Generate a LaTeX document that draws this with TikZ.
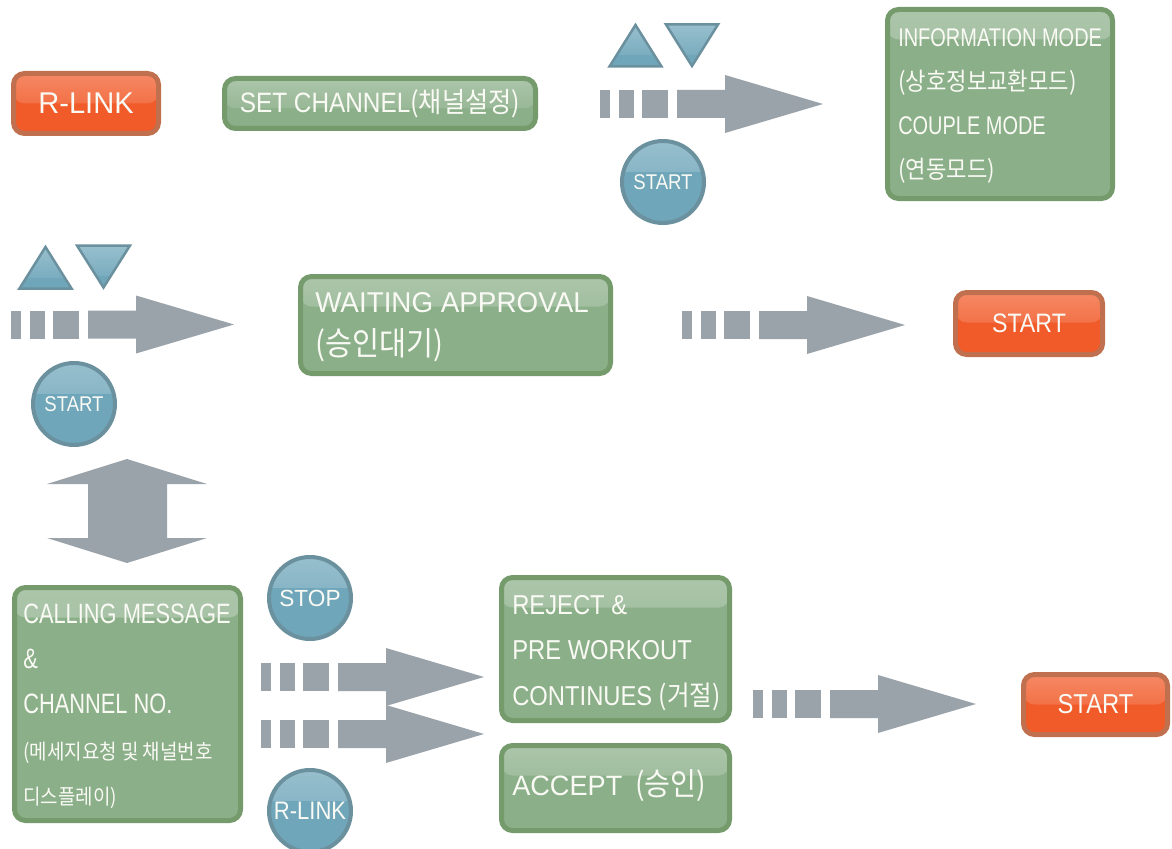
\documentclass[tikz,border=0pt]{standalone}
\usepackage{fontspec}
\setmainfont{Liberation Sans}
\newfontfamily\fa{Liberation Sans}[FakeStretch=0.78]
\newfontfamily\fb{Liberation Sans}[FakeStretch=0.87]
\newfontfamily\fc{Liberation Sans}[FakeStretch=0.97]
\newfontfamily\ko{Noto Sans CJK KR}[FakeStretch=0.9]
\newcommand\hangul[1]{{\ko #1}}
\newcommand\fsz[2]{\fontsize{#1}{#2}\selectfont}
\newdimen\px \px=0.75pt
\definecolor{gfill}{RGB}{139,175,137}
\definecolor{gedge}{RGB}{117,155,108}
\definecolor{ofill}{RGB}{241,90,41}
\definecolor{oedge}{RGB}{192,112,78}
\definecolor{bfill}{RGB}{111,166,186}
\definecolor{bedge}{RGB}{107,144,158}
\definecolor{arr}{RGB}{155,163,170}
\definecolor{txt}{RGB}{250,250,245}
\tikzset{
 gloss/.style={path picture={\shade[top color=white!28!#1, bottom color=#1] (path picture bounding box.north west) rectangle ([yshift=-30\px]path picture bounding box.north east);}},
 box/.style={draw=gedge, fill=gfill, line width=5\px, rounded corners=11\px, gloss=gfill, inner sep=0pt},
 obox/.style={draw=oedge, fill=ofill, line width=5\px, rounded corners=11\px, gloss=ofill, text=txt, inner sep=0pt},
 bcirc/.style={circle, draw=bedge, fill=bfill, line width=4\px, minimum size=82\px, gloss=bfill, text=txt, inner sep=0pt},
 tri/.style={fill=bfill, draw=bedge, line width=2.5\px, line join=miter},
 lbl/.style={text=txt, inner sep=0pt, anchor=west, align=left},
}
\newcommand\blockarrow[2]{%
 \fill[arr] (#1,#2-14) rectangle (#1+10,#2+14);
 \fill[arr] (#1+19,#2-14) rectangle (#1+34,#2+14);
 \fill[arr] (#1+42,#2-14) rectangle (#1+68,#2+14);
 \fill[arr] (#1+77,#2-14) -- (#1+125,#2-14) -- (#1+125,#2-29) -- (#1+223,#2) -- (#1+125,#2+29) -- (#1+125,#2+14) -- (#1+77,#2+14) -- cycle;
}
\begin{document}
\begin{tikzpicture}[x=0.75pt,y=-0.75pt]
\useasboundingbox (0,0) rectangle (1172,849);
% ---------- row 1 ----------
\node[obox, minimum width=145\px, minimum height=60\px, font=\fc\fsz{22.5pt}{26pt}] (rlink) at (86,103.5) {R-LINK};
\node[box, minimum width=311\px, minimum height=50\px, text=txt, font=\fb\fsz{21pt}{24pt}] (setch) at (380,103.5) {SET CHANNEL\hangul{(채널설정)}};
\path[tri, gloss=bfill] (609.5,66.5) -- (635.5,25) -- (661.5,66.5) -- cycle;
\path[tri, gloss=bfill] (666,24.5) -- (718,24.5) -- (692,66) -- cycle;
\blockarrow{600}{104}
\node[bcirc, font=\fb\fsz{16pt}{18pt}] (start1) at (663,182) {START};
\node[box, minimum width=225\px, minimum height=189\px] (info) at (1000,104) {};
\node[lbl, font=\fa\fsz{19.2pt}{33pt}] (infot) at (898,106) {INFORMATION MODE\\ {\ko\fsz{18.5pt}{33pt}(상호정보교환모드)}\\ COUPLE MODE\\ {\ko\fsz{18.5pt}{33pt}(연동모드)}};
% ---------- row 2 ----------
\path[tri, gloss=bfill] (19.5,288.5) -- (45.5,247) -- (71.5,288.5) -- cycle;
\path[tri, gloss=bfill] (77,245.5) -- (130,245.5) -- (103.5,287.5) -- cycle;
\blockarrow{11}{324.5}
\node[bcirc, font=\fb\fsz{16pt}{18pt}] (start2) at (74,404) {START};
\node[box, minimum width=310\px, minimum height=97\px] (wait) at (455.5,325) {};
\node[lbl, font=\fc\fsz{21.5pt}{32pt}] (waitt) at (315,327) {WAITING APPROVAL\\ {\ko\fsz{24.5pt}{32pt}(승인대기)}};
\blockarrow{682}{325}
\node[obox, minimum width=147\px, minimum height=62\px, font=\fb\fsz{20pt}{24pt}] (start3) at (1029,323.5) {START};
% ---------- double arrow ----------
\fill[arr] (127,459) -- (207,484) -- (167,484) -- (167,538) -- (207,538) -- (127,563) -- (47,538) -- (88,538) -- (88,484) -- (47,484) -- cycle;
% ---------- row 3 ----------
\node[box, minimum width=226\px, minimum height=233\px] (call) at (127.5,704) {};
\node[lbl, font=\fa\fsz{21pt}{34pt}] (callt) at (23,706) {CALLING MESSAGE\\ \&\\ CHANNEL NO.\\ {\ko\fsz{15.8pt}{34pt}(메세지요청 및 채널번호}\\ {\ko\fsz{15.8pt}{34pt}디스플레이)}};
\node[bcirc, font=\fc\fsz{17.5pt}{20pt}] (stop) at (310,598) {STOP};
\node[bcirc, font=\fb\fsz{19pt}{22pt}] (rlink2) at (310,811) {R-LINK};
\blockarrow{261}{677}
\blockarrow{261}{734}
\node[box, minimum width=228\px, minimum height=143\px] (reject) at (615.5,649) {};
\node[lbl, font=\fb\fsz{20.5pt}{34pt}] (rejectt) at (512,653) {REJECT \&\\ PRE WORKOUT\\ CONTINUES \hangul{(거절)}};
\node[box, minimum width=228\px, minimum height=85\px] (accept) at (615.5,788) {};
\node[lbl, font=\fc\fsz{21pt}{24pt}] (acceptt) at (512,786) {ACCEPT\hspace{13\px}{\ko\fsz{23.5pt}{28pt}(승인)}};
\blockarrow{753}{704}
\node[obox, minimum width=144\px, minimum height=60\px, font=\fb\fsz{20.5pt}{24pt}] (start4) at (1095.5,704.5) {START};
\end{tikzpicture}
\end{document}
